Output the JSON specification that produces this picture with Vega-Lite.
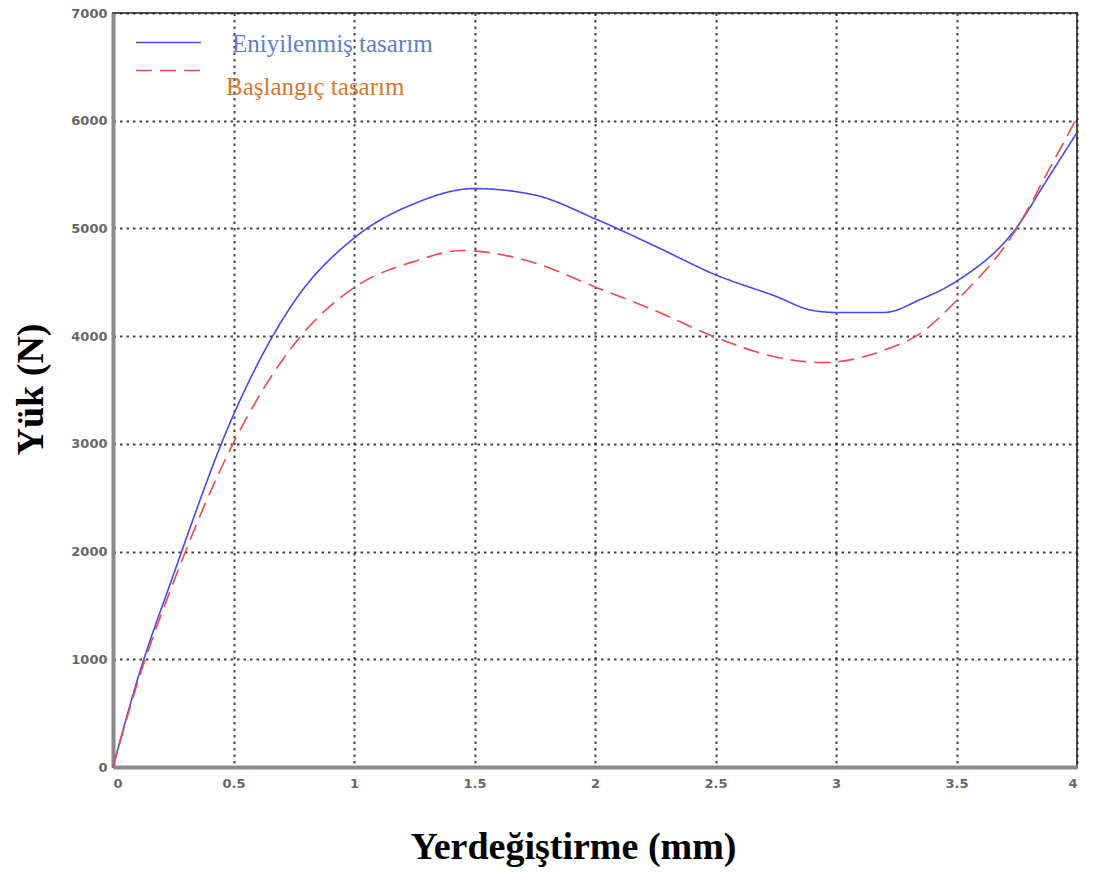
{
  "$schema": "https://vega.github.io/schema/vega-lite/v6.json",
  "autosize": "none",
  "width": 964,
  "height": 754,
  "padding": {"left": 113, "top": 13, "right": 36, "bottom": 105},
  "background": "white",
  "config": {
    "view": {"stroke": "#555", "strokeWidth": 2},
    "axis": {
      "grid": true,
      "gridColor": "#222",
      "gridDash": [2.5, 4],
      "gridWidth": 2,
      "gridOpacity": 0.85,
      "domainColor": "#8a8a8a",
      "domainWidth": 4,
      "ticks": false,
      "labelFont": "DejaVu Sans",
      "labelFontSize": 13,
      "labelFontWeight": "bold",
      "labelColor": "#666",
      "titleFont": "Liberation Serif",
      "titleFontWeight": "bold",
      "titleColor": "#000",
      "titleFontSize": 38
    }
  },
  "data": {
    "values": [
      {"x": 0, "y": 0, "s": "Eniyilenmiş tasarım"},
      {"x": 0.1, "y": 800, "s": "Eniyilenmiş tasarım"},
      {"x": 0.25, "y": 1780, "s": "Eniyilenmiş tasarım"},
      {"x": 0.5, "y": 3270, "s": "Eniyilenmiş tasarım"},
      {"x": 0.75, "y": 4315, "s": "Eniyilenmiş tasarım"},
      {"x": 1, "y": 4910, "s": "Eniyilenmiş tasarım"},
      {"x": 1.25, "y": 5230, "s": "Eniyilenmiş tasarım"},
      {"x": 1.5, "y": 5370, "s": "Eniyilenmiş tasarım"},
      {"x": 1.75, "y": 5310, "s": "Eniyilenmiş tasarım"},
      {"x": 2, "y": 5090, "s": "Eniyilenmiş tasarım"},
      {"x": 2.25, "y": 4835, "s": "Eniyilenmiş tasarım"},
      {"x": 2.5, "y": 4570, "s": "Eniyilenmiş tasarım"},
      {"x": 2.75, "y": 4370, "s": "Eniyilenmiş tasarım"},
      {"x": 2.9, "y": 4240, "s": "Eniyilenmiş tasarım"},
      {"x": 3, "y": 4220, "s": "Eniyilenmiş tasarım"},
      {"x": 3.2, "y": 4220, "s": "Eniyilenmiş tasarım"},
      {"x": 3.35, "y": 4340, "s": "Eniyilenmiş tasarım"},
      {"x": 3.5, "y": 4510, "s": "Eniyilenmiş tasarım"},
      {"x": 3.75, "y": 5010, "s": "Eniyilenmiş tasarım"},
      {"x": 3.875, "y": 5450, "s": "Eniyilenmiş tasarım"},
      {"x": 4, "y": 5890, "s": "Eniyilenmiş tasarım"},
      {"x": 0, "y": 0, "s": "Başlangıç tasarım"},
      {"x": 0.1, "y": 770, "s": "Başlangıç tasarım"},
      {"x": 0.25, "y": 1710, "s": "Başlangıç tasarım"},
      {"x": 0.5, "y": 3010, "s": "Başlangıç tasarım"},
      {"x": 0.75, "y": 3920, "s": "Başlangıç tasarım"},
      {"x": 1, "y": 4450, "s": "Başlangıç tasarım"},
      {"x": 1.25, "y": 4694, "s": "Başlangıç tasarım"},
      {"x": 1.45, "y": 4795, "s": "Başlangıç tasarım"},
      {"x": 1.75, "y": 4680, "s": "Başlangıç tasarım"},
      {"x": 2, "y": 4457, "s": "Başlangıç tasarım"},
      {"x": 2.25, "y": 4237, "s": "Başlangıç tasarım"},
      {"x": 2.5, "y": 3990, "s": "Başlangıç tasarım"},
      {"x": 2.75, "y": 3806, "s": "Başlangıç tasarım"},
      {"x": 2.95, "y": 3755, "s": "Başlangıç tasarım"},
      {"x": 3.2, "y": 3870, "s": "Başlangıç tasarım"},
      {"x": 3.35, "y": 4025, "s": "Başlangıç tasarım"},
      {"x": 3.5, "y": 4330, "s": "Başlangıç tasarım"},
      {"x": 3.75, "y": 5000, "s": "Başlangıç tasarım"},
      {"x": 3.875, "y": 5510, "s": "Başlangıç tasarım"},
      {"x": 4, "y": 6030, "s": "Başlangıç tasarım"}
    ]
  },
  "mark": {"type": "line", "interpolate": "monotone", "strokeWidth": 1.6},
  "encoding": {
    "x": {
      "field": "x",
      "type": "quantitative",
      "scale": {"domain": [0, 4], "nice": false, "zero": false},
      "axis": {
        "values": [0, 0.5, 1, 1.5, 2, 2.5, 3, 3.5, 4],
        "format": "~g",
        "labelPadding": 10,
        "title": "Yerdeğiştirme (mm)",
        "titleX": 460,
        "titleY": 80,
        "titleBaseline": "middle",
        "titleAlign": "center"
      }
    },
    "y": {
      "field": "y",
      "type": "quantitative",
      "scale": {"domain": [0, 7000], "nice": false},
      "axis": {
        "values": [0, 1000, 2000, 3000, 4000, 5000, 6000, 7000],
        "format": "d",
        "labelPadding": 6,
        "title": "Yük (N)",
        "titleX": -82,
        "titleY": 376,
        "titleAngle": -90,
        "titleBaseline": "middle",
        "titleAlign": "center"
      }
    },
    "color": {
      "field": "s",
      "type": "nominal",
      "sort": ["Eniyilenmiş tasarım", "Başlangıç tasarım"],
      "scale": {"domain": ["Eniyilenmiş tasarım", "Başlangıç tasarım"], "range": ["#4848f2", "#f04a4a"]},
      "legend": {
        "title": null,
        "orient": "none",
        "legendX": 42,
        "legendY": 16,
        "symbolType": "M-2.6,0H2.6",
        "symbolSize": 625,
        "symbolStrokeWidth": 1.6,
        "labelFont": "Liberation Serif",
        "labelFontSize": 25,
        "labelOffset": 50,
        "labelLimit": 400,
        "rowPadding": 0,
        "padding": 0,
        "encode": {
          "labels": {
            "update": {
              "fill": {"signal": "datum.value === 'Başlangıç tasarım' ? '#d9772f' : '#5b7fc8'"},
              "dy": {"signal": "datum.value === 'Başlangıç tasarım' ? 16 : 1"},
              "dx": {"signal": "datum.value === 'Başlangıç tasarım' ? -6 : 0"}
            }
          }
        }
      }
    },
    "strokeDash": {
      "field": "s",
      "type": "nominal",
      "sort": ["Eniyilenmiş tasarım", "Başlangıç tasarım"],
      "scale": {"domain": ["Eniyilenmiş tasarım", "Başlangıç tasarım"], "range": [[1, 0], [16, 8]]},
      "legend": null
    }
  }
}
